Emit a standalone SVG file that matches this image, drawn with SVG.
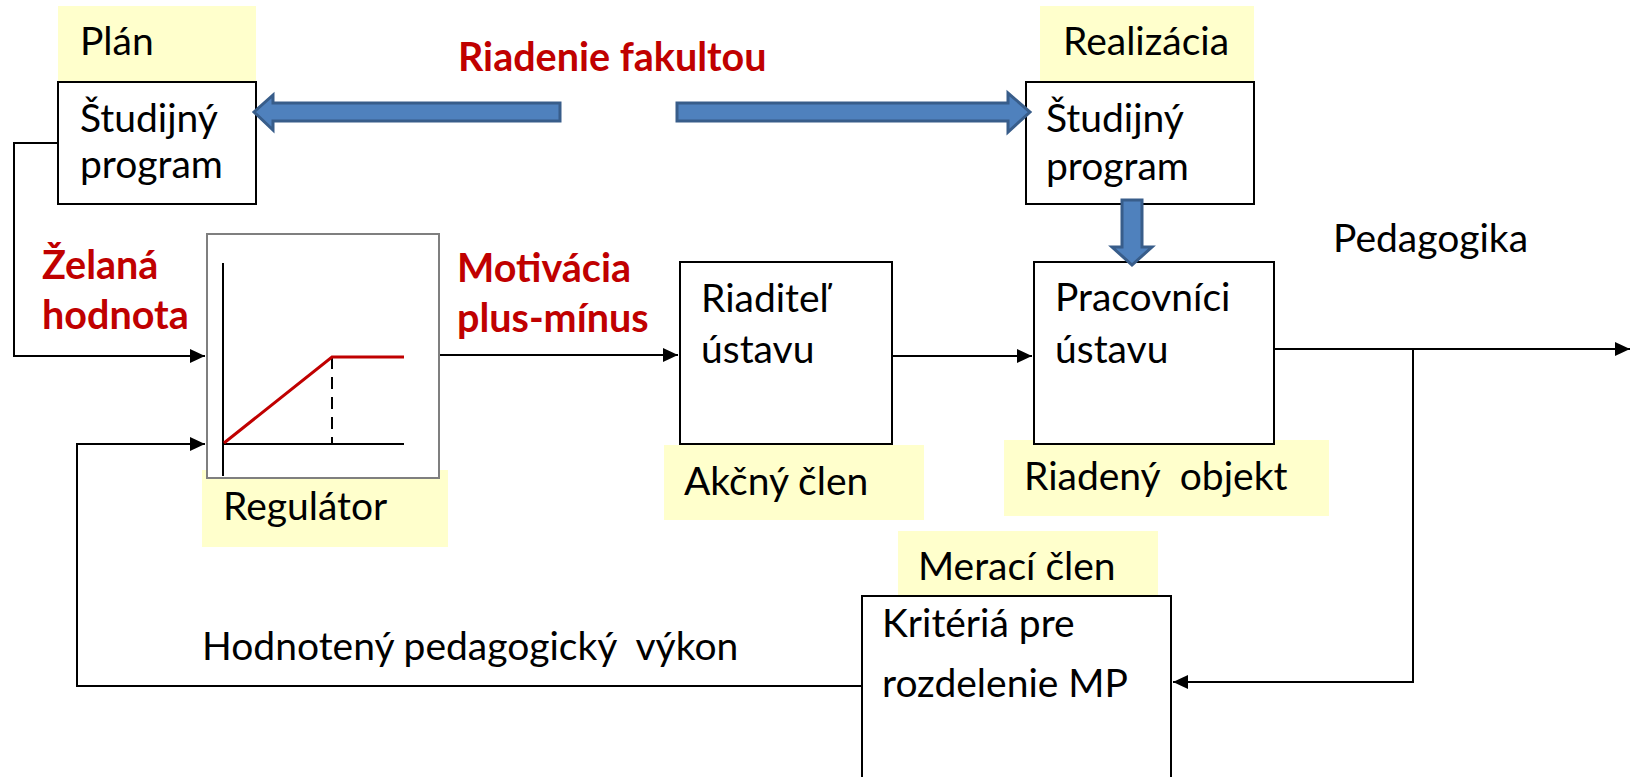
<svg xmlns="http://www.w3.org/2000/svg" width="1633" height="777" viewBox="0 0 1633 777">
<style>
.t{font-family:Lato,"Liberation Sans",sans-serif;font-size:39px;fill:#000}
.r{font-family:Lato,"Liberation Sans",sans-serif;font-size:39.5px;font-weight:bold;fill:#C00000}
.box{fill:#fff;stroke:#000;stroke-width:2}
.gbox{fill:#fff;stroke:#7f7f7f;stroke-width:2}
.yel{fill:#FFFFCC;stroke:none}
.ln{fill:none;stroke:#000;stroke-width:2}
.blue{fill:#4F81BD;stroke:#385D8A;stroke-width:3;stroke-linejoin:miter}
</style>
<defs>
<marker id="ah" markerWidth="16" markerHeight="14" refX="15" refY="7" orient="auto" markerUnits="userSpaceOnUse">
<path d="M0,0 L15,7 L0,14 Z" fill="#000"/>
</marker>
</defs>
<rect width="1633" height="777" fill="#fff"/>

<g id="plan">
<rect class="yel" x="58" y="6" width="198" height="76"/>
<text class="t" x="80" y="55">Plán</text>
</g>
<g id="studijny-plan">
<rect class="box" x="58" y="82" width="198" height="122"/>
<text class="t" x="80" y="132">Študijný</text>
<text class="t" x="80" y="178">program</text>
</g>

<g id="realizacia">
<rect class="yel" x="1040" y="6" width="214" height="76"/>
<text class="t" x="1063" y="55">Realizácia</text>
</g>
<g id="studijny-real">
<rect class="box" x="1026" y="82" width="228" height="122"/>
<text class="t" x="1046" y="132">Študijný</text>
<text class="t" x="1046" y="180">program</text>
</g>

<g id="riadenie-label">
<text class="r" x="458" y="71">Riadenie fakultou</text>
</g>

<g id="regulator">
<rect class="yel" x="202" y="470" width="246" height="77"/>
<rect class="gbox" x="207" y="234" width="232" height="244"/>
<line x1="223" y1="263" x2="223" y2="476" stroke="#000" stroke-width="2"/>
<line x1="223" y1="444" x2="404" y2="444" stroke="#000" stroke-width="2"/>
<line x1="332" y1="357" x2="332" y2="444" stroke="#000" stroke-width="2" stroke-dasharray="12,8"/>
<polyline points="224,443 332,357 404,357" fill="none" stroke="#C00000" stroke-width="3"/>
<text class="t" x="223" y="520">Regulátor</text>
</g>

<g id="zelana-label">
<text class="r" x="42" y="279">Želaná</text>
<text class="r" x="42" y="329">hodnota</text>
</g>

<g id="motivacia-label">
<text class="r" x="457" y="282">Motivácia</text>
<text class="r" x="457" y="332">plus-mínus</text>
</g>

<g id="riaditel">
<rect class="yel" x="664" y="445" width="260" height="75"/>
<rect class="box" x="680" y="262" width="212" height="182"/>
<text class="t" x="701" y="312">Riaditeľ</text>
<text class="t" x="701" y="363">ústavu</text>
<text class="t" x="684" y="495">Akčný člen</text>
</g>

<g id="pracovnici">
<rect class="yel" x="1004" y="440" width="325" height="76"/>
<rect class="box" x="1034" y="262" width="240" height="182"/>
<text class="t" x="1055" y="311">Pracovníci</text>
<text class="t" x="1055" y="363">ústavu</text>
<text class="t" x="1024" y="490" xml:space="preserve">Riadený  objekt</text>
</g>

<g id="pedagogika-label">
<text class="t" x="1333" y="252">Pedagogika</text>
</g>

<g id="meraci">
<rect class="yel" x="898" y="531" width="260" height="65"/>
<text class="t" x="918" y="580">Merací člen</text>
<rect class="box" x="862" y="596" width="309" height="190"/>
<text class="t" x="882" y="637">Kritériá pre</text>
<text class="t" x="882" y="697">rozdelenie MP</text>
</g>

<g id="hodnoteny-label">
<text class="t" x="202" y="660" xml:space="preserve">Hodnotený pedagogický  výkon</text>
</g>

<g id="connectors">
<polygon class="blue" points="560,103 273,103 273,95 254,112 273,130 273,121 560,121"/>
<polygon class="blue" points="677,103 1008,103 1008,93 1030,112 1008,132 1008,121 677,121"/>
<polygon class="blue" points="1122,200 1142,200 1142,247 1152,247 1132,265 1112,247 1122,247"/>
<polyline class="ln" points="58,143 14,143 14,356 205,356" marker-end="url(#ah)"/>
<polyline class="ln" points="862,686 77,686 77,444 205,444" marker-end="url(#ah)"/>
<line class="ln" x1="440" y1="355" x2="678" y2="355" marker-end="url(#ah)"/>
<line class="ln" x1="892" y1="356" x2="1032" y2="356" marker-end="url(#ah)"/>
<line class="ln" x1="1274" y1="349" x2="1630" y2="349" marker-end="url(#ah)"/>
<polyline class="ln" points="1413,349 1413,682 1173,682" marker-end="url(#ah)"/>
</g>
</svg>
